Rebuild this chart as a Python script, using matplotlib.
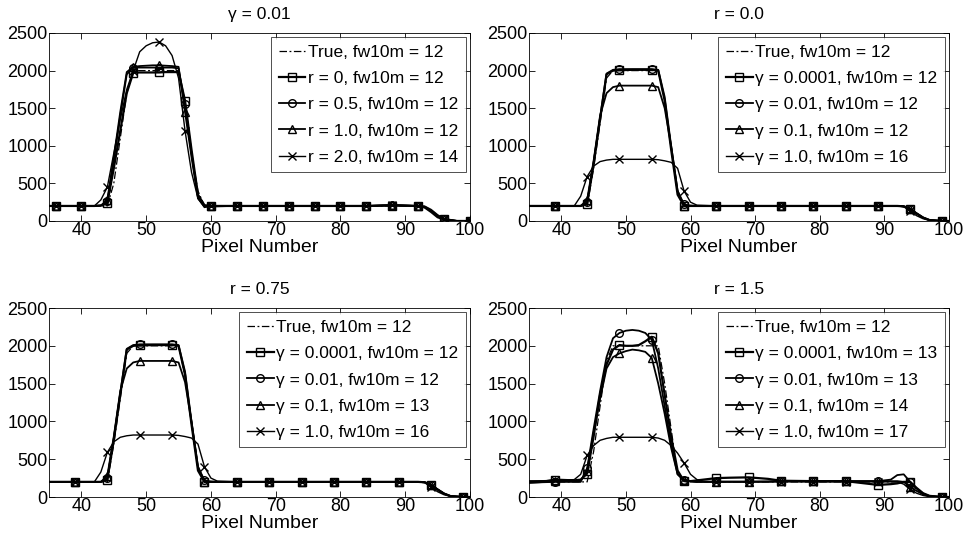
#!/usr/bin/env python3

import numpy as np
from matplotlib import pyplot as plt

plt.rcParams["font.family"] = ["Liberation Sans", "DejaVu Sans"]

# --- top left: gamma = 0.01, varying r ---
tl_x = [35, 36, 40, 42, 43, 44, 45, 46, 47, 48, 49, 50, 51, 52, 53, 54, 55, 56,
        57, 58, 59, 60, 64, 68, 72, 76, 80, 84, 88, 92, 93, 94, 95, 96, 98, 100]
tl_true = [200, 200, 200, 200, 200, 200, 500, 1100, 1700, 2000, 2000, 2000, 2000, 2000, 2000, 2000, 2000, 1500,
           900, 400, 200, 200, 200, 200, 200, 200, 200, 200, 200, 200, 180, 130, 60, 20, 0, 0]
tl_r0 = [200, 200, 200, 200, 205, 240, 700, 1200, 1700, 1970, 1975, 1975, 1975, 1975, 1980, 1980, 1980, 1600,
         950, 350, 210, 200, 200, 200, 200, 200, 200, 200, 205, 200, 180, 120, 50, 20, 0, 0]
tl_r05 = [200, 200, 200, 200, 205, 260, 800, 1400, 1950, 2040, 2040, 2040, 2040, 2040, 2040, 2040, 2030, 1550,
          900, 320, 200, 195, 200, 200, 200, 200, 200, 200, 210, 200, 190, 140, 70, 25, 0, 0]
tl_r1 = [200, 200, 200, 200, 205, 280, 850, 1450, 1980, 2050, 2060, 2065, 2070, 2070, 2065, 2060, 2050, 1450,
         850, 300, 190, 195, 200, 200, 200, 200, 200, 200, 210, 200, 195, 150, 80, 30, 0, 0]
tl_r2 = [200, 200, 195, 200, 280, 450, 900, 1350, 1750, 2000, 2250, 2330, 2370, 2380, 2330, 2200, 1900, 1200,
         650, 300, 180, 200, 200, 200, 200, 200, 200, 200, 215, 200, 185, 130, 60, 20, 0, 0]
tl_marks = [36, 40, 44, 48, 52, 56, 60, 64, 68, 72, 76, 80, 84, 88, 92, 96, 100]
tl_labels = ["True, fw10m = 12", "r = 0, fw10m = 12", "r = 0.5, fw10m = 12",
             "r = 1.0, fw10m = 12", "r = 2.0, fw10m = 14"]

# --- top right: r = 0.0, varying gamma ---
tr_x = [35, 39, 42, 43, 44, 45, 46, 47, 48, 49, 51, 54, 55, 56, 57, 58, 59, 60, 61,
        64, 69, 74, 79, 84, 89, 92, 93, 94, 95, 96, 97, 99, 100]
tr_true = [200, 200, 200, 200, 200, 700, 1300, 1900, 2000, 2000, 2000, 2000, 2000, 1600, 1000, 400, 200, 200, 200,
           200, 200, 200, 200, 200, 200, 200, 190, 150, 90, 40, 10, 0, 0]
tr_g1 = [200, 200, 200, 200, 230, 750, 1350, 1950, 2000, 2005, 2010, 2010, 2000, 1600, 950, 350, 200, 200, 200,
         200, 200, 200, 200, 200, 200, 200, 195, 160, 100, 45, 12, 0, 0]
tr_g2 = [200, 200, 200, 200, 250, 780, 1380, 1960, 2010, 2020, 2020, 2020, 2010, 1650, 1000, 400, 220, 205, 200,
         200, 200, 200, 200, 200, 200, 200, 195, 160, 100, 45, 12, 0, 0]
tr_g3 = [200, 200, 200, 200, 280, 800, 1400, 1700, 1780, 1800, 1800, 1800, 1780, 1500, 1000, 400, 200, 200, 200,
         200, 200, 200, 200, 200, 200, 200, 195, 160, 100, 45, 12, 0, 0]
tr_g4 = [200, 200, 200, 330, 590, 730, 790, 810, 820, 820, 820, 820, 815, 800, 780, 700, 400, 250, 210,
         200, 200, 200, 200, 200, 200, 200, 190, 130, 70, 30, 8, 0, 0]
tr_labels = ["True, fw10m = 12", "γ = 0.0001, fw10m = 12", "γ = 0.01, fw10m = 12",
             "γ = 0.1, fw10m = 12", "γ = 1.0, fw10m = 16"]

# --- bottom left: r = 0.75 ---
bl_x = tr_x
bl_true = tr_true
bl_g1 = [200, 200, 200, 200, 230, 750, 1350, 1950, 2000, 2005, 2010, 2010, 2000, 1620, 960, 350, 200, 200, 200,
         200, 200, 200, 200, 200, 200, 200, 195, 160, 100, 45, 12, 0, 0]
bl_g2 = [200, 200, 200, 200, 250, 780, 1380, 1960, 2010, 2020, 2020, 2020, 2010, 1660, 1000, 400, 220, 205, 200,
         200, 200, 200, 200, 200, 200, 200, 195, 160, 100, 45, 12, 0, 0]
bl_g3 = [200, 200, 200, 200, 280, 800, 1400, 1700, 1780, 1800, 1800, 1800, 1780, 1520, 1000, 400, 200, 200, 200,
         200, 200, 200, 200, 200, 200, 200, 195, 160, 100, 45, 12, 0, 0]
bl_g4 = [200, 200, 200, 330, 590, 730, 790, 810, 820, 820, 820, 820, 815, 800, 780, 700, 400, 250, 210,
         200, 200, 200, 200, 200, 200, 200, 190, 130, 70, 30, 8, 0, 0]
bl_labels = ["True, fw10m = 12", "γ = 0.0001, fw10m = 12", "γ = 0.01, fw10m = 12",
             "γ = 0.1, fw10m = 13", "γ = 1.0, fw10m = 16"]

# --- bottom right: r = 1.5 ---
br_x = [35, 37, 39, 42, 43, 44, 45, 46, 47, 48, 49, 50, 51, 52, 53, 54, 55, 56, 57, 58, 59,
        60, 61, 62, 64, 66, 69, 72, 74, 79, 84, 89, 91, 92, 93, 94, 95, 96, 97, 99, 100]
br_true = [200, 200, 200, 200, 200, 200, 600, 1200, 1800, 2000, 2000, 2000, 2000, 2000, 2000, 2000, 2000, 1500, 900, 300, 200,
           200, 200, 200, 200, 200, 200, 200, 200, 200, 200, 200, 200, 200, 190, 160, 100, 40, 10, 0, 0]
br_g1 = [190, 200, 230, 220, 230, 310, 800, 1350, 1750, 1950, 2010, 2000, 2000, 2010, 2060, 2120, 1900, 1350, 800, 350, 210,
         210, 220, 230, 250, 255, 260, 240, 215, 210, 210, 160, 170, 180, 200, 200, 120, 50, 15, 0, 0]
br_g2 = [190, 195, 200, 200, 200, 380, 900, 1400, 1850, 2100, 2170, 2200, 2210, 2200, 2170, 2080, 1700, 1200, 700, 300, 230,
         210, 200, 200, 200, 200, 200, 205, 210, 210, 210, 210, 230, 290, 300, 200, 110, 45, 12, 0, 0]
br_g3 = [210, 210, 210, 210, 220, 350, 850, 1300, 1700, 1850, 1900, 1930, 1950, 1940, 1920, 1840, 1500, 1100, 650, 300, 230,
         210, 200, 200, 205, 205, 205, 205, 210, 210, 210, 210, 210, 210, 200, 130, 80, 35, 10, 0, 0]
br_g4 = [210, 215, 220, 230, 300, 550, 680, 750, 775, 790, 790, 790, 790, 790, 790, 790, 780, 750, 680, 580, 450,
         300, 230, 210, 200, 200, 200, 200, 200, 200, 200, 200, 200, 200, 170, 100, 50, 20, 5, 0, 0]
br_labels = ["True, fw10m = 12", "γ = 0.0001, fw10m = 13", "γ = 0.01, fw10m = 13",
             "γ = 0.1, fw10m = 14", "γ = 1.0, fw10m = 17"]

g_marks = [39, 44, 49, 54, 59, 64, 69, 74, 79, 84, 89, 94, 99]

TFS = 13     # tick labels
FS = 14      # axis labels
TTFS = 12.5  # titles
LFS = 12.5   # legend


def draw_panel(ax, x, series, marks, labels, title):
    idx = [i for i, xv in enumerate(x) if xv in marks]
    ax.plot(x, series[0], color="k", lw=0.9, ls=(0, (6, 2, 1.5, 2)), label=labels[0])
    styles = [("s", 1.6), ("o", 1.3), ("^", 1.3), ("x", 1.0)]
    for ys, (m, lw), lab in zip(series[1:], styles, labels[1:]):
        ax.plot(x, ys, color="k", lw=lw, marker=m, ms=5.5, mfc="none",
                mew=1.0, markevery=idx, label=lab)
    ax.set_xlim(35, 100)
    ax.set_ylim(0, 2500)
    ax.set_xticks(np.arange(40, 101, 10))
    ax.set_yticks(np.arange(0, 2501, 500))
    ax.tick_params(direction="in", top=True, right=True, length=4,
                   labelsize=TFS, pad=1, width=0.6)
    for s in ax.spines.values():
        s.set_linewidth(0.6)
    ax.set_title(title, fontsize=TTFS, pad=10)
    ax.set_xlabel("Pixel Number", fontsize=FS, labelpad=0)
    leg = ax.legend(loc="upper right", fontsize=LFS, frameon=True, fancybox=False,
                    edgecolor="k", handlelength=1.55, handletextpad=0.12,
                    labelspacing=0.63, borderpad=0.45, borderaxespad=0.25)
    leg.get_frame().set_linewidth(0.6)


fig = plt.figure(figsize=(9.71, 5.47), dpi=100)
ax1 = fig.add_axes([0.0505, 0.596, 0.4335, 0.3437])
ax2 = fig.add_axes([0.5448, 0.596, 0.4325, 0.3437])
ax3 = fig.add_axes([0.0505, 0.0914, 0.4335, 0.3455])
ax4 = fig.add_axes([0.5448, 0.0914, 0.4325, 0.3455])

draw_panel(ax1, tl_x, [tl_true, tl_r0, tl_r05, tl_r1, tl_r2], tl_marks, tl_labels, "γ = 0.01")
draw_panel(ax2, tr_x, [tr_true, tr_g1, tr_g2, tr_g3, tr_g4], g_marks, tr_labels, "r = 0.0")
draw_panel(ax3, bl_x, [bl_true, bl_g1, bl_g2, bl_g3, bl_g4], g_marks, bl_labels, "r = 0.75")
draw_panel(ax4, br_x, [br_true, br_g1, br_g2, br_g3, br_g4], g_marks, br_labels, "r = 1.5")

fig.savefig("out.png", dpi=100)
